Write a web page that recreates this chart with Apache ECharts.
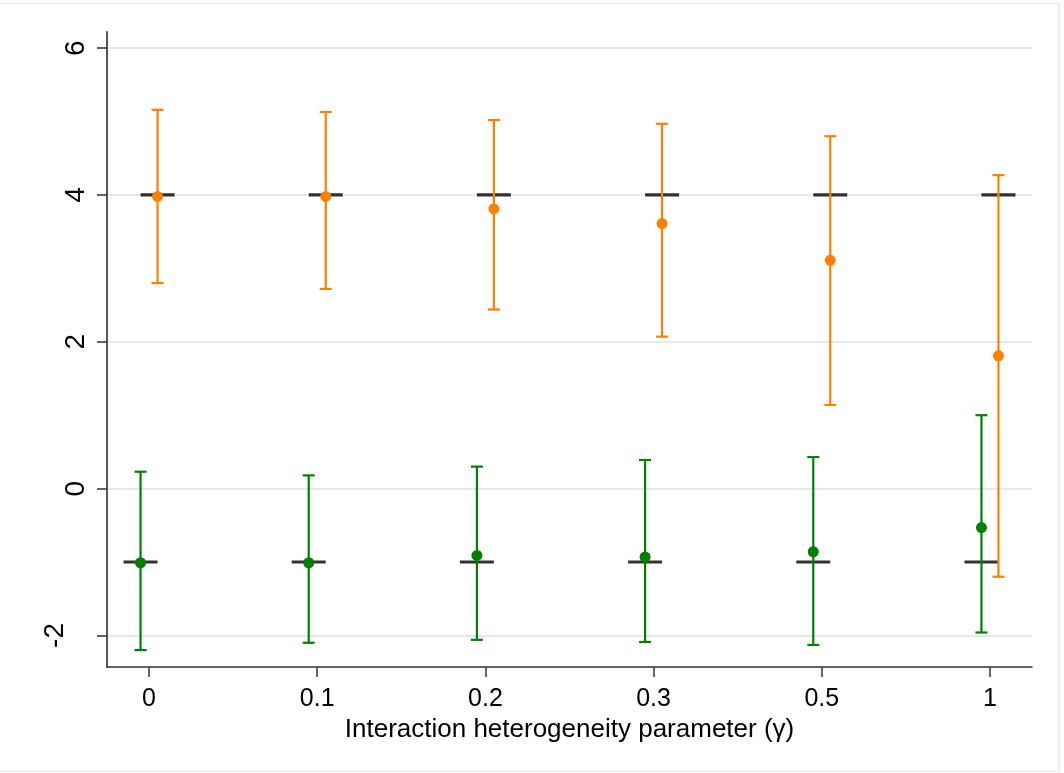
<!DOCTYPE html>
<html>
<head>
<meta charset="utf-8">
<script src="https://cdn.jsdelivr.net/npm/echarts@6/dist/echarts.min.js"></script>
<style>
  html, body { margin: 0; padding: 0; background: #fff; }
  #chart { width: 1064px; height: 773px; }
</style>
</head>
<body>
<div id="chart"></div>
<script>
const gammaLabels = ['0', '0.1', '0.2', '0.3', '0.5', '1'];
const yTicks = [-2, 0, 2, 4, 6];

const orangeEst = [3.98, 3.98, 3.81, 3.61, 3.11, 1.81];
const orangeLow = [2.80, 2.72, 2.44, 2.07, 1.14, -1.20];
const orangeHigh = [5.16, 5.13, 5.02, 4.97, 4.80, 4.27];
const orangeTrue = [4, 4, 4, 4, 4, 4];

const greenEst = [-1.01, -1.01, -0.91, -0.93, -0.86, -0.53];
const greenLow = [-2.20, -2.10, -2.06, -2.09, -2.13, -1.96];
const greenHigh = [0.23, 0.18, 0.30, 0.39, 0.43, 1.00];
const greenTrue = [-1, -1, -1, -1, -1, -1];

const ORANGE = '#ff8000';
const GREEN = '#008000';
const FONT = 'Liberation Sans, Arial, sans-serif';
const xIdx = gammaLabels.map((_, i) => i);

function errorBars(low, high, color, offset) {
  return {
    type: 'custom',
    z: 3,
    silent: true,
    data: low.map((v, i) => [i, v, high[i]]),
    encode: { x: 0, y: [1, 2] },
    renderItem: (params, api) => {
      const lo = api.coord([api.value(0), api.value(1)]);
      const hi = api.coord([api.value(0), api.value(2)]);
      const x = lo[0] + offset;
      const style = { stroke: color, lineWidth: 2.2 };
      return {
        type: 'group',
        children: [
          { type: 'line', shape: { x1: x, y1: lo[1], x2: x, y2: hi[1] }, style },
          { type: 'line', shape: { x1: x - 6, y1: lo[1], x2: x + 6, y2: lo[1] }, style },
          { type: 'line', shape: { x1: x - 6, y1: hi[1], x2: x + 6, y2: hi[1] }, style },
        ],
      };
    },
  };
}

function trueDash(values, offset) {
  return {
    type: 'scatter',
    z: 2,
    silent: true,
    symbol: 'rect',
    symbolSize: [34, 3.2],
    symbolOffset: [offset, 0],
    itemStyle: { color: '#000' },
    data: values.map((v, i) => [i, v]),
  };
}

function points(values, color, offset) {
  return {
    type: 'scatter',
    z: 4,
    silent: true,
    symbolSize: 11,
    symbolOffset: [offset, 0],
    itemStyle: { color: color, opacity: 1 },
    data: values.map((v, i) => [i, v]),
  };
}

const chart = echarts.init(document.getElementById('chart'));
chart.setOption({
  animation: false,
  backgroundColor: '#fff',
  textStyle: { fontFamily: FONT },
  grid: { left: 107, right: 32, top: 32, bottom: 106, outerBoundsMode: 'none' },
  graphic: [
    {
      type: 'rect',
      silent: true,
      shape: { x: -2, y: 3.5, width: 1061, height: 768 },
      style: { fill: 'none', stroke: '#ebebeb', lineWidth: 1.5 },
    },
  ],
  xAxis: {
    type: 'value',
    min: -0.25,
    max: 5.25,
    name: 'Interaction heterogeneity parameter (γ)',
    nameLocation: 'middle',
    nameGap: 43,
    nameTextStyle: { fontSize: 26, color: '#000', fontFamily: FONT },
    axisLine: { onZero: false, lineStyle: { color: '#333', width: 1.5 } },
    axisTick: { customValues: xIdx, length: 10, lineStyle: { color: '#333', width: 1.5 } },
    axisLabel: {
      customValues: xIdx,
      formatter: (v) => gammaLabels[Math.round(v)],
      fontSize: 25,
      color: '#000',
      margin: 20,
      fontFamily: FONT,
    },
    splitLine: { show: false },
  },
  yAxis: {
    type: 'value',
    min: -2.43,
    max: 6.22,
    axisLine: { show: true, onZero: false, lineStyle: { color: '#555', width: 2 } },
    axisTick: { show: true, customValues: yTicks, length: 10, lineStyle: { color: '#333', width: 1.5 } },
    axisLabel: {
      customValues: yTicks,
      rotate: 90,
      fontSize: 28,
      color: '#000',
      margin: 17,
      fontFamily: FONT,
      // the negative label sits further out from the axis in the original
      formatter: (v) => (v < 0 ? '{neg|' + v + '}' : String(v)),
      rich: {
        neg: { fontSize: 28, color: '#000', fontFamily: FONT, padding: [0, 0, 21, 0] },
      },
    },
    splitLine: { show: true, lineStyle: { color: '#e8e8e8', width: 2 } },
  },
  series: [
    trueDash(orangeTrue, 8.5),
    trueDash(greenTrue, -8.5),
    errorBars(orangeLow, orangeHigh, ORANGE, 8.5),
    errorBars(greenLow, greenHigh, GREEN, -8.5),
    points(orangeEst, ORANGE, 8.5),
    points(greenEst, GREEN, -8.5),
  ],
});
</script>
</body>
</html>
